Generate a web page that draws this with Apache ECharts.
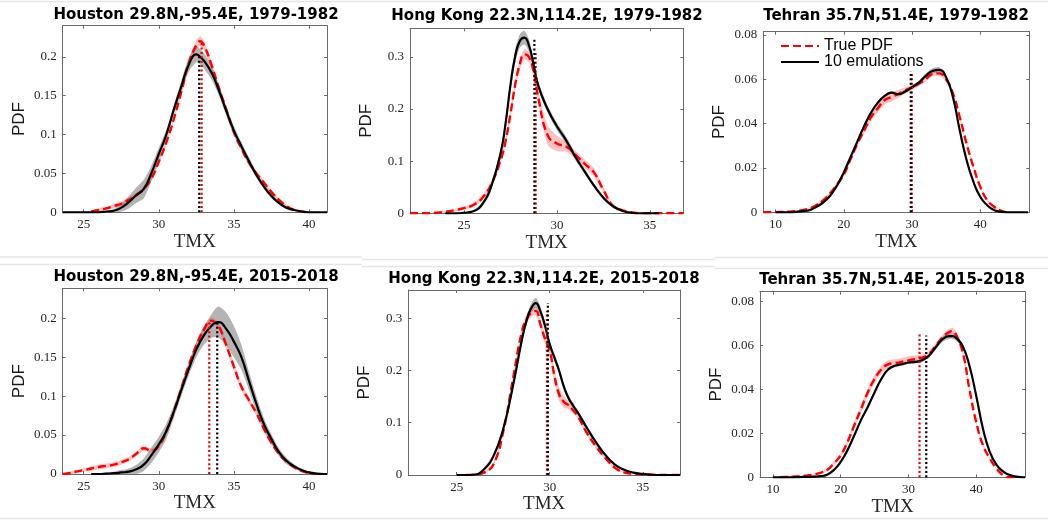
<!DOCTYPE html>
<html><head><meta charset="utf-8">
<script src="https://cdn.jsdelivr.net/npm/echarts@6/dist/echarts.min.js"></script>
<style>html,body{margin:0;padding:0;background:#fff}#c{width:1048px;height:520px}</style>
</head><body><div id="c"></div>
<script>
// ---------------- DATA ----------------
const panelTitles = [
  'Houston 29.8N,-95.4E, 1979-1982', 'Hong Kong 22.3N,114.2E, 1979-1982', 'Tehran 35.7N,51.4E, 1979-1982',
  'Houston 29.8N,-95.4E, 2015-2018', 'Hong Kong 22.3N,114.2E, 2015-2018', 'Tehran 35.7N,51.4E, 2015-2018'
];
const seriesNames = ['True PDF', '10 emulations'];
const xAxisName = 'TMX';
const yAxisName = 'PDF';

const xRanges = [[23.6, 41.2], [22.1, 36.8], [8.2, 47.2], [23.6, 41.2], [22.4, 37.0], [8.1, 47.2]];
const yMaxes = [0.24, 0.355, 0.0815, 0.2385, 0.354, 0.0844];
const houXTicks = [25, 30, 35, 40];
const hkXTicks = [25, 30, 35];
const tehXTicks = [10, 20, 30, 40];
const houYTicks = [0, 0.05, 0.1, 0.15, 0.2];
const hkYTicks = [0, 0.1, 0.2, 0.3];
const tehYTicks = [0, 0.02, 0.04, 0.06, 0.08];

// Houston 1979-1982
const hou79X = [23.6,24,24.5,25,25.5,26,26.5,27,27.5,28,28.5,29,29.5,30,30.5,31,31.5,32,32.5,32.75,33,33.5,34,34.5,35,35.5,36,36.5,37,37.5,38,38.5,39,39.5,40,40.5,41,41.2];
const hou79Emu = [0,0,0,0,0,0,0.001,0.002,0.006,0.013,0.022,0.03,0.05,0.075,0.1,0.132,0.162,0.19,0.203,0.2,0.195,0.18,0.157,0.13,0.105,0.085,0.066,0.048,0.033,0.021,0.012,0.006,0.003,0.001,0,0,0,0];
const hou79EmuSpread = [0,0,0,0,0,0,0.001,0.002,0.005,0.008,0.01,0.012,0.01,0.008,0.006,0.006,0.007,0.009,0.01,0.01,0.01,0.009,0.007,0.006,0.006,0.005,0.005,0.004,0.003,0.003,0.002,0.002,0.001,0.001,0,0,0,0];
const hou79True = [null,null,null,null,0.001,0.003,0.005,0.008,0.011,0.016,0.022,0.03,0.043,0.065,0.09,0.12,0.155,0.192,0.215,0.22,0.215,0.19,0.16,0.132,0.103,0.082,0.064,0.05,0.038,0.026,0.016,0.008,0.003,0.001,0,null,null,null];
const hou79TrueSpread = [null,null,null,null,0.001,0.002,0.002,0.003,0.003,0.003,0.003,0.003,0.003,0.003,0.003,0.003,0.004,0.005,0.006,0.006,0.006,0.005,0.004,0.003,0.003,0.003,0.003,0.003,0.003,0.003,0.002,0.002,0.001,0.001,0,null,null,null];

// Hong Kong 1979-1982
const hk79X = [22.1,22.5,23,23.5,24,24.5,25,25.5,26,26.5,27,27.25,27.5,27.75,28,28.25,28.5,28.75,29,29.5,30,30.5,31,31.5,32,32.5,33,33.5,34,34.5,35,35.5,36,36.5,36.8];
const hk79Emu = [null,null,null,null,0,0,0.001,0.004,0.018,0.055,0.12,0.175,0.245,0.3,0.33,0.337,0.322,0.285,0.245,0.2,0.167,0.14,0.108,0.08,0.053,0.03,0.014,0.005,0.001,0,0,0,null,null,null];
const hk79EmuSpread = [null,null,null,null,0,0,0.001,0.002,0.004,0.006,0.008,0.01,0.012,0.013,0.013,0.013,0.012,0.01,0.008,0.007,0.007,0.007,0.006,0.005,0.004,0.003,0.002,0.001,0,0,0,0,null,null,null];
const hk79True = [0,0,0,0.001,0.003,0.006,0.01,0.016,0.03,0.058,0.105,0.14,0.19,0.245,0.285,0.305,0.3,0.272,0.222,0.15,0.134,0.128,0.112,0.095,0.078,0.045,0.015,0.006,0.002,0,0,0,0,0,0];
const hk79TrueSpread = [0,0,0,0.001,0.002,0.002,0.003,0.004,0.005,0.006,0.006,0.007,0.008,0.009,0.01,0.01,0.01,0.01,0.012,0.018,0.015,0.01,0.008,0.008,0.008,0.006,0.004,0.002,0.001,0,0,0,0,0,0];

// Tehran 1979-1982
const teh79X = [8.2,9,10,11,12,13,14,15,16,17,18,19,20,21,22,23,24,25,26,27,28,29,30,31,32,33,34,35,36,37,38,39,40,41,42,43,44,45,46,47];
const teh79Emu = [null,null,0,0,0,0.0002,0.0005,0.001,0.0025,0.0045,0.0075,0.012,0.018,0.025,0.032,0.039,0.045,0.0495,0.0525,0.054,0.0533,0.0545,0.0564,0.0585,0.0615,0.0638,0.0643,0.061,0.052,0.037,0.0236,0.0138,0.007,0.0033,0.001,0.0003,0,0,0,0];
const teh79EmuSpread = [null,null,0,0,0,0.0001,0.0002,0.0003,0.0004,0.0005,0.0005,0.0006,0.0006,0.0006,0.0006,0.0006,0.0006,0.0006,0.0006,0.0006,0.0007,0.0008,0.0008,0.0009,0.001,0.0012,0.0012,0.001,0.0008,0.0007,0.0006,0.0005,0.0004,0.0003,0.0002,0.0001,0,0,0,0];
const teh79True = [0,0,0.0001,0.0002,0.0003,0.0006,0.001,0.0018,0.0033,0.0055,0.0086,0.0125,0.017,0.024,0.031,0.037,0.043,0.047,0.0507,0.052,0.0534,0.055,0.0564,0.058,0.06,0.0624,0.0627,0.06,0.0537,0.043,0.031,0.0206,0.0116,0.0056,0.0026,0.0008,0,null,null,null];
const teh79TrueSpread = [0,0,0,0.0001,0.0001,0.0002,0.0003,0.0004,0.0005,0.0006,0.0007,0.0008,0.0009,0.001,0.0012,0.0014,0.0016,0.0018,0.002,0.002,0.0018,0.0014,0.0012,0.001,0.001,0.001,0.0012,0.0012,0.001,0.0009,0.0008,0.0007,0.0006,0.0005,0.0003,0.0002,0,null,null,null];

// Houston 2015-2018
const hou15X = [23.6,24,24.5,25,25.5,26,26.5,27,27.5,28,28.5,29,29.5,30,30.5,31,31.5,32,32.5,33,33.5,33.75,34,34.5,35,35.5,36,36.5,37,37.5,38,38.5,39,39.5,40,40.5,41,41.2];
const hou15Emu = [null,null,null,null,0,0,0.0005,0.001,0.002,0.003,0.006,0.012,0.024,0.038,0.055,0.08,0.108,0.135,0.16,0.178,0.19,0.194,0.195,0.186,0.17,0.15,0.12,0.09,0.064,0.045,0.028,0.017,0.01,0.005,0.002,0.0005,0,0];
const hou15EmuSpread = [null,null,null,null,0,0.001,0.001,0.002,0.003,0.004,0.006,0.008,0.01,0.01,0.01,0.008,0.008,0.008,0.01,0.012,0.015,0.018,0.02,0.021,0.02,0.016,0.012,0.01,0.008,0.006,0.005,0.004,0.003,0.002,0.001,0,0,0];
const hou15True = [0,0.001,0.003,0.005,0.007,0.009,0.0105,0.012,0.015,0.019,0.026,0.033,0.03,0.036,0.055,0.08,0.11,0.14,0.165,0.185,0.197,0.195,0.19,0.165,0.138,0.112,0.095,0.078,0.058,0.04,0.026,0.016,0.009,0.004,0.001,0,null,null];
const hou15TrueSpread = [0.001,0.002,0.002,0.002,0.003,0.003,0.003,0.003,0.003,0.003,0.003,0.003,0.003,0.003,0.003,0.003,0.003,0.003,0.004,0.004,0.004,0.004,0.004,0.005,0.005,0.005,0.004,0.003,0.003,0.002,0.002,0.002,0.001,0.001,0.001,0,null,null];

// Hong Kong 2015-2018
const hk15X = [22.4,23,23.5,24,24.5,25,25.5,26,26.5,27,27.5,28,28.5,28.75,29,29.25,29.5,29.75,30,30.25,30.5,30.75,31,31.25,31.5,32,32.5,33,33.5,34,34.5,35,35.5,36,36.5,37];
const hk15Emu = [null,null,null,null,null,0,0,0.001,0.012,0.038,0.088,0.166,0.258,0.295,0.319,0.329,0.313,0.285,0.25,0.225,0.2,0.17,0.148,0.133,0.12,0.09,0.062,0.038,0.02,0.01,0.0045,0.002,0.0005,0,0,0];
const hk15EmuSpread = [null,null,null,null,null,0,0,0.001,0.003,0.004,0.005,0.006,0.007,0.008,0.009,0.01,0.009,0.008,0.007,0.006,0.006,0.006,0.005,0.005,0.005,0.004,0.004,0.003,0.002,0.002,0.001,0.001,0,0,0,0];
const hk15True = [null,null,null,null,null,null,0,0.001,0.005,0.022,0.083,0.179,0.274,0.298,0.31,0.314,0.288,0.26,0.238,0.19,0.155,0.14,0.134,0.124,0.113,0.08,0.054,0.032,0.014,0.005,0.002,0.001,0.0005,0,0,0];
const hk15TrueSpread = [null,null,null,null,null,null,0,0.001,0.002,0.004,0.005,0.006,0.007,0.008,0.008,0.008,0.008,0.009,0.011,0.013,0.013,0.011,0.008,0.006,0.005,0.004,0.004,0.003,0.002,0.001,0.001,0,0,0,0,0];

// Tehran 2015-2018
const teh15X = [8.1,9,10,11,12,13,14,15,16,17,18,19,20,21,22,23,24,25,26,27,28,29,30,31,32,33,34,35,36,36.5,37,38,39,40,41,42,43,44,45,46,47,47.2];
const teh15Emu = [null,null,0,0,0,0,0.0001,0.0002,0.0003,0.0005,0.0012,0.0033,0.007,0.0123,0.019,0.026,0.032,0.0386,0.0447,0.049,0.0507,0.0514,0.0522,0.0525,0.0532,0.0552,0.059,0.0627,0.0642,0.0642,0.0635,0.0597,0.0507,0.0371,0.0221,0.0116,0.0056,0.0026,0.001,0.0003,0,0];
const teh15EmuSpread = [null,null,0,0,0,0,0,0.0001,0.0001,0.0002,0.0003,0.0004,0.0005,0.0006,0.0006,0.0006,0.0006,0.0006,0.0006,0.0006,0.0006,0.0006,0.0006,0.0006,0.0007,0.0008,0.001,0.0012,0.0013,0.0013,0.0012,0.001,0.0009,0.0008,0.0006,0.0005,0.0003,0.0002,0.0001,0,0,0];
const teh15True = [null,null,null,0.0001,0.0002,0.0003,0.0005,0.0008,0.0012,0.002,0.0033,0.0063,0.01,0.016,0.0236,0.031,0.0386,0.0447,0.049,0.0514,0.0519,0.0525,0.0532,0.0537,0.0544,0.056,0.0597,0.0635,0.066,0.0665,0.065,0.057,0.0401,0.0251,0.0146,0.0086,0.004,0.001,0,0,null,null];
const teh15TrueSpread = [null,null,null,0,0.0001,0.0001,0.0002,0.0003,0.0004,0.0005,0.0006,0.0008,0.001,0.0012,0.0015,0.0018,0.0018,0.0018,0.0018,0.0018,0.0018,0.0018,0.0018,0.0018,0.0016,0.0014,0.0012,0.0012,0.0014,0.0015,0.0015,0.0012,0.001,0.0008,0.0006,0.0005,0.0003,0.0001,0,0,null,null];

// dotted mean lines: x position and height
const meanTrueX   = [32.85, 28.86, 29.98, 33.36, 29.85, 31.64];
const meanTrueTop = [0.22, 0.307, 0.0632, 0.197, 0.314, 0.0657];
const meanEmuX    = [32.69, 28.79, 29.82, 33.89, 29.90, 32.63];
const meanEmuTop  = [0.203, 0.337, 0.0636, 0.195, 0.329, 0.0645];

// ---------------- LAYOUT / STYLE ----------------
const grids = [
  {left: 62.7, top: 25.7, width: 264.3, height: 186.6, tx: 196, ty: 15.5},
  {left: 410,  top: 28.3, width: 273.3, height: 185,   tx: 547, ty: 16},
  {left: 763.3,top: 31.7, width: 266,   height: 180.6, tx: 896, ty: 16},
  {left: 62.7, top: 288.3,width: 264.3, height: 185.7, tx: 196, ty: 277.5},
  {left: 408.3,top: 290,  width: 271.7, height: 185,   tx: 544, ty: 279},
  {left: 760,  top: 291.7,width: 265,   height: 185.6, tx: 892, ty: 280.5}
];
const panels = [
  {x: hou79X, emu: hou79Emu, emuS: hou79EmuSpread, tru: hou79True, truS: hou79TrueSpread, xt: houXTicks, yt: houYTicks},
  {x: hk79X,  emu: hk79Emu,  emuS: hk79EmuSpread,  tru: hk79True,  truS: hk79TrueSpread,  xt: hkXTicks,  yt: hkYTicks},
  {x: teh79X, emu: teh79Emu, emuS: teh79EmuSpread, tru: teh79True, truS: teh79TrueSpread, xt: tehXTicks, yt: tehYTicks},
  {x: hou15X, emu: hou15Emu, emuS: hou15EmuSpread, tru: hou15True, truS: hou15TrueSpread, xt: houXTicks, yt: houYTicks},
  {x: hk15X,  emu: hk15Emu,  emuS: hk15EmuSpread,  tru: hk15True,  truS: hk15TrueSpread,  xt: hkXTicks,  yt: hkYTicks},
  {x: teh15X, emu: teh15Emu, emuS: teh15EmuSpread, tru: teh15True, truS: teh15TrueSpread, xt: tehXTicks, yt: tehYTicks}
];

const AX = '#6a6a6a';
const LBL = '#262626';
const fmt = v => String(Math.round(v * 10000) / 10000);

const option = {
  backgroundColor: '#fff',
  animation: false,
  grid: [], xAxis: [], yAxis: [], series: [], graphic: [],
  legend: {
    data: seriesNames, selectedMode: false, orient: 'vertical',
    left: 775, top: 33, itemWidth: 38, itemHeight: 14, itemGap: 0,
    itemStyle: {opacity: 0, borderWidth: 0},
    textStyle: {fontFamily: 'Liberation Sans', fontSize: 16, color: '#000'}
  }
};

function band(gi, xs, mean, spread, color, z) {
  return {
    type: 'custom', xAxisIndex: gi * 2, yAxisIndex: gi * 2, z: z, silent: true, clip: true,
    data: xs.map((x, i) => [x, mean[i] == null ? 0 : mean[i]]),
    encode: {x: 0, y: 1},
    renderItem: function (params, api) {
      if (params.dataIndex !== 0) return null;
      const up = [], dn = [];
      xs.forEach((x, i) => {
        if (mean[i] == null) return;
        up.push(api.coord([x, mean[i] + spread[i]]));
        dn.push(api.coord([x, Math.max(0, mean[i] - spread[i])]));
      });
      return {type: 'polygon', shape: {points: up.concat(dn.reverse()), smooth: 0.25}, style: {fill: color}};
    }
  };
}

panels.forEach((p, gi) => {
  const g = grids[gi];
  option.grid.push({left: g.left, top: g.top, width: g.width, height: g.height, containLabel: false});
  const tickCommon = {show: true, inside: true, length: 3, lineStyle: {color: AX, width: 1}};
  option.xAxis.push({
    type: 'value', gridIndex: gi, min: xRanges[gi][0], max: xRanges[gi][1], position: 'bottom',
    axisLine: {show: true, onZero: false, lineStyle: {color: AX, width: 1}},
    axisTick: Object.assign({customValues: p.xt}, tickCommon),
    axisLabel: {customValues: p.xt, formatter: fmt, margin: 6, fontFamily: 'Liberation Serif', fontSize: 13, color: LBL},
    splitLine: {show: false},
    name: xAxisName, nameLocation: 'middle', nameGap: 19,
    nameTextStyle: {fontFamily: 'Liberation Serif', fontSize: 19, color: LBL}
  });
  option.xAxis.push({
    type: 'value', gridIndex: gi, min: xRanges[gi][0], max: xRanges[gi][1], position: 'top',
    axisLine: {show: true, onZero: false, lineStyle: {color: AX, width: 1}},
    axisTick: Object.assign({customValues: p.xt}, tickCommon),
    axisLabel: {show: false}, splitLine: {show: false}
  });
  option.yAxis.push({
    type: 'value', gridIndex: gi, min: 0, max: yMaxes[gi], position: 'left',
    axisLine: {show: true, onZero: false, lineStyle: {color: AX, width: 1}},
    axisTick: Object.assign({customValues: p.yt}, tickCommon),
    axisLabel: {customValues: p.yt, formatter: fmt, margin: 6, fontFamily: 'Liberation Serif', fontSize: 13, color: LBL},
    splitLine: {show: false},
    name: yAxisName, nameLocation: 'middle', nameGap: 35,
    nameTextStyle: {fontFamily: 'Liberation Sans', fontSize: 17, color: '#1a1a1a'}
  });
  option.yAxis.push({
    type: 'value', gridIndex: gi, min: 0, max: yMaxes[gi], position: 'right',
    axisLine: {show: true, onZero: false, lineStyle: {color: AX, width: 1}},
    axisTick: Object.assign({customValues: p.yt}, tickCommon),
    axisLabel: {show: false}, splitLine: {show: false}
  });

  option.series.push(band(gi, p.x, p.emu, p.emuS, '#b4b4b4', 1));
  option.series.push(band(gi, p.x, p.tru, p.truS, 'rgba(255,70,70,0.33)', 2));
  option.series.push({
    name: seriesNames[0], type: 'line', xAxisIndex: gi * 2, yAxisIndex: gi * 2, z: 3,
    data: p.x.map((x, i) => [x, p.tru[i]]), symbol: 'none', showSymbol: false,
    smooth: 0.5, connectNulls: false, clip: true,
    itemStyle: {color: '#ff0000'},
    lineStyle: {color: '#ff0000', width: 2.4, type: [8, 4]}
  });
  option.series.push({
    name: seriesNames[1], type: 'line', xAxisIndex: gi * 2, yAxisIndex: gi * 2, z: 4,
    data: p.x.map((x, i) => [x, p.emu[i]]), symbol: 'none', showSymbol: false,
    smooth: 0.5, connectNulls: false, clip: true,
    itemStyle: {color: '#000'},
    lineStyle: {color: '#000', width: 2.2}
  });
  option.series.push({
    type: 'line', xAxisIndex: gi * 2, yAxisIndex: gi * 2, z: 5, silent: true,
    data: [[meanTrueX[gi], 0], [meanTrueX[gi], meanTrueTop[gi]]], symbol: 'none',
    lineStyle: {color: '#e00000', width: 2.2, type: [2, 2.4]}
  });
  option.series.push({
    type: 'line', xAxisIndex: gi * 2, yAxisIndex: gi * 2, z: 5, silent: true,
    data: [[meanEmuX[gi], 0], [meanEmuX[gi], meanEmuTop[gi]]], symbol: 'none',
    lineStyle: {color: '#000', width: 2.2, type: [2, 2.4]}
  });

  option.graphic.push({
    type: 'text', x: g.tx, y: g.ty, silent: true,
    style: {text: panelTitles[gi], font: 'bold 15px "DejaVu Sans"', fill: '#000', textAlign: 'center', textVerticalAlign: 'middle'}
  });
});

// faint separators between the screenshot tiles
const sepLines = [
  [0, 1.5, 1048, 1.5],
  [0, 257, 362, 257], [362, 259.5, 715, 259.5], [715, 257.5, 1048, 257.5],
  [0, 264.5, 362, 264.5], [362, 266.5, 715, 266.5], [715, 268.5, 1048, 268.5],
  [0, 518.5, 1048, 518.5]
];
sepLines.forEach(s => option.graphic.push({
  type: 'line', silent: true, shape: {x1: s[0], y1: s[1], x2: s[2], y2: s[3]},
  style: {stroke: '#e6e6e6', lineWidth: 1.5}
}));

const chart = echarts.init(document.getElementById('c'), null, {renderer: 'canvas'});
chart.setOption(option);
</script>
</body></html>
